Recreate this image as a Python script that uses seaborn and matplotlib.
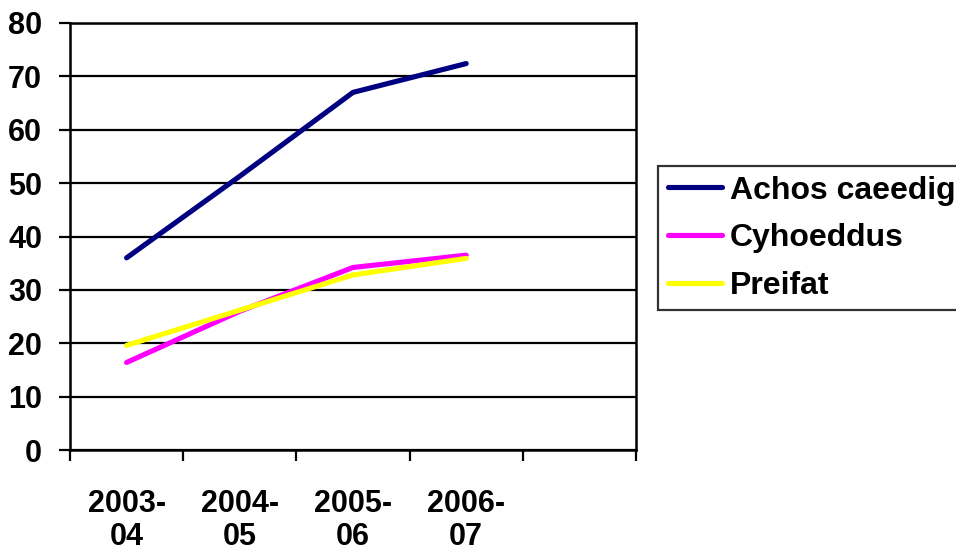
import matplotlib
matplotlib.use("Agg")
import matplotlib.pyplot as plt
import seaborn as sns
import pandas as pd
import numpy as np

categories = ["2003-\n04", "2004-\n05", "2005-\n06", "2006-\n07"]
series_names = ["Achos caeedig", "Cyhoeddus", "Preifat"]
achos_caeedig = [36.0, 51.3, 67.0, 72.4]
cyhoeddus = [16.4, 26.0, 34.2, 36.5]
preifat = [19.6, 26.2, 32.8, 35.9]
colors = ["#000080", "#FF00FF", "#FFFF00"]
y_ticks = [0, 10, 20, 30, 40, 50, 60, 70, 80]

rows = []
for name, vals in zip(series_names, [achos_caeedig, cyhoeddus, preifat]):
    for i, v in enumerate(vals):
        rows.append({"pos": i, "value": v, "series": name})
df = pd.DataFrame(rows)

sns.set_style("white")
plt.rcParams["font.family"] = ["Liberation Sans", "DejaVu Sans"]
plt.rcParams["font.weight"] = "bold"
plt.rcParams["text.color"] = "black"
plt.rcParams["xtick.color"] = "black"
plt.rcParams["ytick.color"] = "black"
plt.rcParams["xtick.labelcolor"] = "black"
plt.rcParams["ytick.labelcolor"] = "black"

fig = plt.figure(figsize=(9.56, 5.51), dpi=100)
ax = fig.add_axes([70 / 956, 1 - 450 / 551, 566 / 956, 427 / 551])

sns.lineplot(data=df, x="pos", y="value", hue="series", hue_order=series_names,
             palette=colors, linewidth=3.7, ax=ax, legend=True,
             solid_capstyle="round")

ax.set_xlim(-0.5, 4.5)
ax.set_ylim(0, 80)
ax.set_yticks(y_ticks)
ax.set_yticklabels([str(t) for t in y_ticks])
ax.yaxis.grid(True, color="black", linewidth=1.6)
ax.set_axisbelow(True)
ax.xaxis.grid(False)

ax.set_xticks(np.arange(-0.5, 5.0, 1.0))
ax.set_xticklabels([])
ax.set_xticks(range(len(categories)), minor=True)
ax.set_xticklabels(categories, minor=True, fontsize=22, fontweight="bold",
                   linespacing=1.15, color="black")
ax.tick_params(axis="x", which="minor", length=0, pad=28)
ax.tick_params(axis="x", which="major", length=8, width=1.6, color="black",
               direction="out", bottom=True)
ax.tick_params(axis="y", length=8, width=1.6, color="black", direction="out",
               left=True, labelsize=22, pad=12, labelcolor="black")
for lbl in ax.get_yticklabels():
    lbl.set_fontweight("bold")

for sp in ax.spines.values():
    sp.set_color("black")
    sp.set_linewidth(1.8)
    sp.set_visible(True)

ax.set_xlabel("")
ax.set_ylabel("")

leg = ax.legend(loc="upper left", bbox_to_anchor=(658 / 956, 1 - 166 / 551),
                bbox_transform=fig.transFigure, frameon=True, fancybox=False,
                prop={"size": 23, "weight": "bold"}, handlelength=1.7,
                handletextpad=0.25, labelspacing=0.55, borderpad=0.3,
                borderaxespad=0)
leg.get_frame().set_edgecolor("black")
leg.get_frame().set_linewidth(1.6)
for t in leg.get_texts():
    t.set_color("black")
for line in leg.get_lines():
    line.set_linewidth(3.7)

fig.savefig("out.png", dpi=100)
